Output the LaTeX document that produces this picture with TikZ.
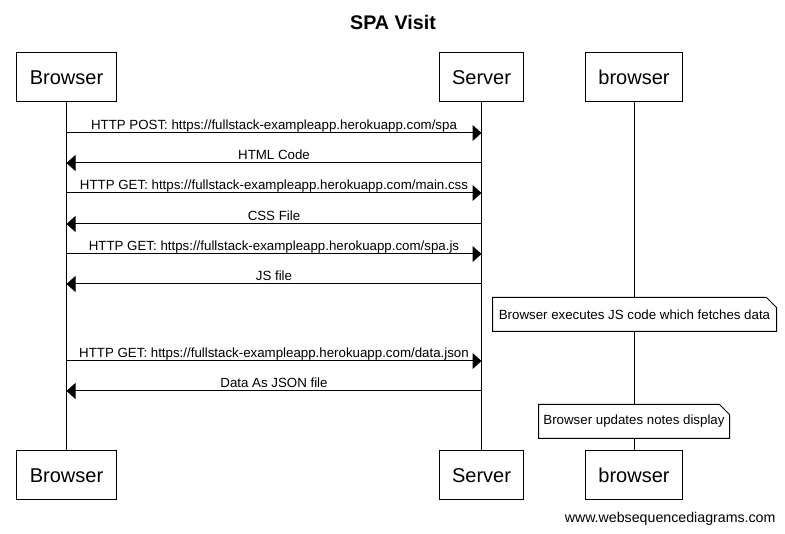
\documentclass[tikz,border=0pt]{standalone}
\usepackage{fontspec}
\setmainfont{Liberation Sans}
\usetikzlibrary{arrows.meta}

\tikzset{
  actor/.style={draw,fill=white,minimum height=49pt,inner xsep=13pt,font=\fontsize{20}{24}\selectfont},
  msg/.style={->},
  lbl/.style={above,inner sep=0pt,text depth=3pt,font=\fontsize{13.3}{16}\selectfont},
  note/.style={fill=white,minimum height=33pt,inner sep=0pt,font=\fontsize{13.3}{16}\selectfont},
}

\begin{document}
\begin{tikzpicture}[>={Triangle[length=9pt,width=16pt]},x=1pt,y=-1pt,line width=1pt]
  \useasboundingbox (0,0) rectangle (785,534);

  \node (title) at (393,22) {\fontsize{19.7}{23}\selectfont\bfseries SPA Visit};

  % participants, top and bottom
  \node[actor] (bt) at (66.5,77.5)  {Browser};
  \node[actor] (st) at (481.5,77.5) {Server};
  \node[actor] (ct) at (634,77.5)   {browser};
  \node[actor] (bb) at (66.5,475.5) {Browser};
  \node[actor] (sb) at (481.5,475.5) {Server};
  \node[actor] (cb) at (634,475.5)  {browser};

  \draw (bt.south) -- (bb.north)
        (st.south) -- (sb.north)
        (ct.south) -- (cb.north);

  % messages
  \draw[msg] (bt |- 0,133) -- node[lbl] {HTTP POST: https://fullstack-exampleapp.herokuapp.com/spa} (st |- 0,133);
  \draw[msg] (st |- 0,163) -- node[lbl] {HTML Code} (bt |- 0,163);
  \draw[msg] (bt |- 0,193) -- node[lbl] {HTTP GET: https://fullstack-exampleapp.herokuapp.com/main.css} (st |- 0,193);
  \draw[msg] (st |- 0,224) -- node[lbl] {CSS File} (bt |- 0,224);
  \draw[msg] (bt |- 0,254) -- node[lbl] {HTTP GET: https://fullstack-exampleapp.herokuapp.com/spa.js} (st |- 0,254);
  \draw[msg] (st |- 0,284) -- node[lbl] {JS file} (bt |- 0,284);
  \draw[msg] (bt |- 0,361) -- node[lbl] {HTTP GET: https://fullstack-exampleapp.herokuapp.com/data.json} (st |- 0,361);
  \draw[msg] (st |- 0,391) -- node[lbl] {Data As JSON file} (bt |- 0,391);

  % notes
  \node[note,minimum width=283pt] (n1) at (634.5,314.5) {Browser executes JS code which fetches data};
  \draw (n1.north west) -- ([xshift=-10pt]n1.north east) -- ([yshift=-10pt]n1.north east)
        -- (n1.south east) -- (n1.south west) -- cycle;
  \node[note,minimum width=190pt] (n2) at (634,421.5) {Browser updates notes display};
  \draw (n2.north west) -- ([xshift=-10pt]n2.north east) -- ([yshift=-10pt]n2.north east)
        -- (n2.south east) -- (n2.south west) -- cycle;

  \node[anchor=east,inner sep=0pt,font=\fontsize{14.2}{17}\selectfont] (wsd) at (776,519) {www.websequencediagrams.com};
\end{tikzpicture}
\end{document}
